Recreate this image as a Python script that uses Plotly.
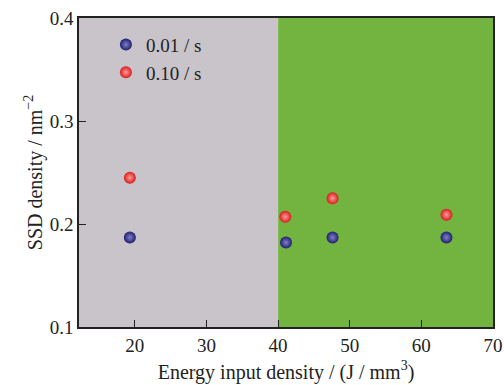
import plotly.graph_objects as go

# Energy input density (J/mm^3) and SSD density (nm^-2) for two strain rates
energy_slow = [19.3, 41.1, 47.6, 63.5]
ssd_slow = [0.187, 0.182, 0.187, 0.187]
energy_fast = [19.3, 41.0, 47.6, 63.5]
ssd_fast = [0.245, 0.207, 0.225, 0.209]

x_range = [12.2, 70]
y_range = [0.1, 0.4]
x_ticks = [20, 30, 40, 50, 60, 70]
y_ticks = [0.1, 0.2, 0.3, 0.4]
region_split = 40

font_family = "Liberation Serif"
ink = "#222222"

fig = go.Figure()

fig.add_trace(go.Scatter(
    x=energy_slow, y=ssd_slow, mode="markers", name="0.01 / s",
    marker=dict(size=12, color="#1f1f70",
                gradient=dict(type="radial", color="#8080c8"),
                line=dict(width=0)),
))
fig.add_trace(go.Scatter(
    x=energy_fast, y=ssd_fast, mode="markers", name="0.10 / s",
    marker=dict(size=12, color="#d81c1c",
                gradient=dict(type="radial", color="#ff9a9a"),
                line=dict(width=0)),
))

# Shaded regions below and above the split energy
fig.add_shape(type="rect", xref="x", yref="y", x0=x_range[0], x1=region_split,
              y0=y_range[0], y1=y_range[1], fillcolor="#c9c4ca",
              line=dict(width=0), layer="below")
fig.add_shape(type="rect", xref="x", yref="y", x0=region_split, x1=x_range[1],
              y0=y_range[0], y1=y_range[1], fillcolor="#72b43f",
              line=dict(width=0), layer="below")

axis_common = dict(
    showgrid=False, zeroline=False, showline=True, linecolor=ink,
    linewidth=1.5, mirror=True, ticks="inside", ticklen=7, tickwidth=1.2,
    tickcolor=ink, automargin=False,
    tickfont=dict(family=font_family, size=19, color=ink),
)

fig.update_layout(
    width=504, height=385,
    margin=dict(l=79, r=11, t=18, b=58),
    paper_bgcolor="white", plot_bgcolor="white",
    font=dict(family=font_family, color=ink),
    xaxis=dict(range=x_range, tickvals=x_ticks,
               title=dict(text="Energy input density / (J / mm<sup>3</sup>)",
                          font=dict(family=font_family, size=20, color=ink),
                          standoff=10),
               **axis_common),
    yaxis=dict(range=y_range, tickvals=y_ticks, tickformat=".1f",
               title=dict(text="SSD density / nm<sup>−2</sup>",
                          font=dict(family=font_family, size=20, color=ink),
                          standoff=2),
               **axis_common),
    legend=dict(x=0.065, y=0.975, xanchor="left", yanchor="top",
                bgcolor="rgba(0,0,0,0)",
                font=dict(family=font_family, size=19, color=ink),
                itemwidth=30, tracegroupgap=0),
    showlegend=True,
)

fig.write_html("out.html")
